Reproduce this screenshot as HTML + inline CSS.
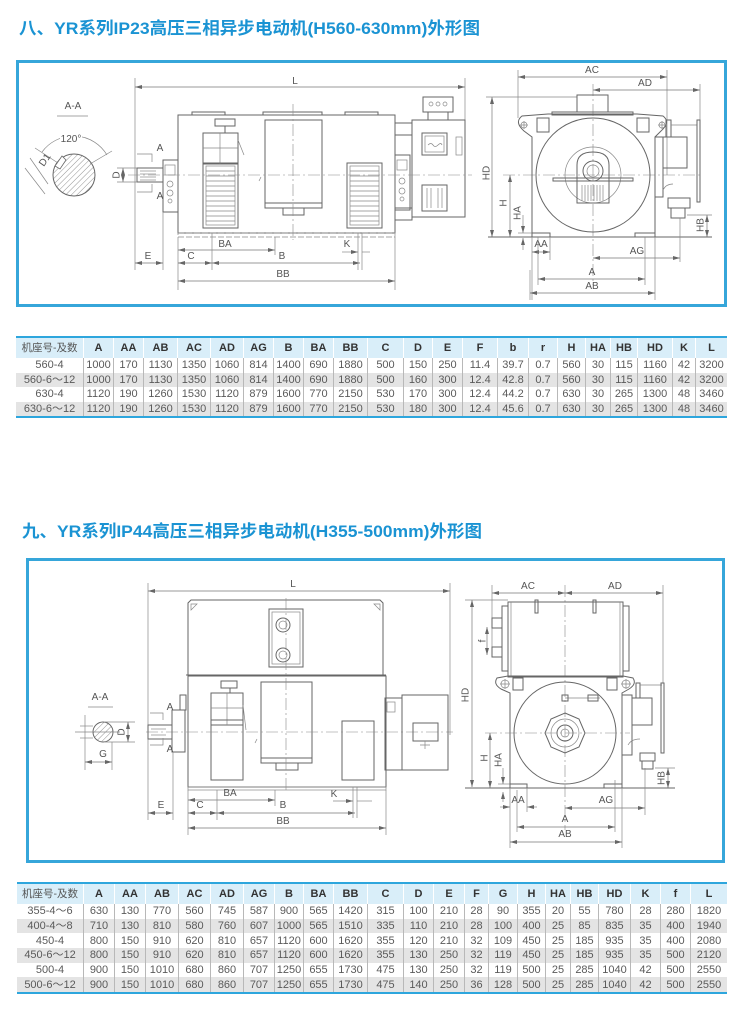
<!DOCTYPE html>
<html><head><meta charset="utf-8">
<style>
html,body{margin:0;padding:0;background:#fff}
body{width:750px;height:1010px;position:relative;overflow:hidden;font-family:"Liberation Sans","Noto Sans CJK SC",sans-serif}
svg{position:absolute;left:0;top:0}
table{position:absolute;border-collapse:separate;border-spacing:0;table-layout:fixed;border-top:2px solid #2ea6dd;border-bottom:2px solid #2ea6dd}
th,td{padding:0;text-align:center;overflow:hidden;white-space:nowrap}
th{background:#d9eef9;font-weight:bold;font-size:11px;color:#333;border-left:1px solid #fff;height:20px;line-height:20px}
td{font-size:11px;color:#5a5a5a;border-left:1px solid #b8b8b8;line-height:14px}
th:first-child,td:first-child{border-left:none}
th:first-child{font-weight:normal;color:#555;font-size:10.5px}
tr.g td{background:#e4e4e4}
#t1 td{height:14.5px}
#t2 td{height:14.67px}
.o{fill:none;stroke:#666;stroke-width:1}
.t{fill:none;stroke:#888;stroke-width:.7}
.d{stroke:#777;stroke-width:.7;marker-start:url(#ar);marker-end:url(#ar)}
.c{stroke:#888;stroke-width:.6;stroke-dasharray:12 3 2 3}
.lb{font-family:"Liberation Sans",sans-serif;font-size:10px;fill:#555;text-anchor:middle}
</style></head>
<body>
<svg width="750" height="1010" viewBox="0 0 750 1010">
<defs>
<marker id="ar" markerUnits="userSpaceOnUse" markerWidth="7" markerHeight="5" refX="7" refY="2.5" orient="auto-start-reverse"><path d="M0,0.5 L7,2.5 L0,4.5 z" fill="#666"/></marker>
<pattern id="h" patternUnits="userSpaceOnUse" width="4" height="4" patternTransform="rotate(45)"><line x1="0" y1="0" x2="0" y2="4" stroke="#777" stroke-width="0.8"/></pattern>
</defs>

<!-- Titles -->
<text x="19" y="34" font-family="Liberation Sans, Noto Sans CJK SC, sans-serif" font-size="17" font-weight="bold" fill="#1a93d3" textLength="461" lengthAdjust="spacingAndGlyphs">八、YR系列IP23高压三相异步电动机(H560-630mm)外形图</text>
<text x="22" y="537" font-family="Liberation Sans, Noto Sans CJK SC, sans-serif" font-size="17" font-weight="bold" fill="#1a93d3" textLength="460" lengthAdjust="spacingAndGlyphs">九、YR系列IP44高压三相异步电动机(H355-500mm)外形图</text>

<!-- Frames -->
<rect x="17.5" y="61.5" width="708" height="244" fill="none" stroke="#36a6da" stroke-width="3"/>
<rect x="27.5" y="559.5" width="696" height="302" fill="none" stroke="#36a6da" stroke-width="3"/>

<!-- ============ DIAGRAM 1 SIDE VIEW ============ -->
<line class="d" x1="135" y1="87" x2="465" y2="87"/>
<text class="lb" x="295" y="84">L</text>
<line class="t" x1="135" y1="78" x2="135" y2="270"/>
<line class="t" x1="465" y1="78" x2="465" y2="178"/>

<rect class="o" x="178" y="115" width="217" height="118"/>
<rect class="o" x="192" y="112" width="33" height="3"/>
<rect class="o" x="263" y="112" width="59" height="3"/>
<rect class="o" x="345" y="112" width="33" height="3"/>
<rect class="t" x="178" y="233" width="217" height="4" stroke-dasharray="6 2"/>

<!-- left bracket & shaft -->
<rect class="o" x="163" y="160" width="15" height="52"/>
<rect class="t" x="165" y="165" width="10" height="10"/>
<circle class="t" cx="170" cy="184" r="3"/><circle class="t" cx="170" cy="193" r="3"/><circle class="t" cx="170" cy="201" r="2"/>
<rect class="o" x="137" y="168" width="26" height="14"/>
<line class="t" x1="140" y1="171" x2="156" y2="171"/><line class="t" x1="140" y1="174" x2="156" y2="174"/><line class="t" x1="140" y1="177" x2="156" y2="177"/><line class="t" x1="140" y1="180" x2="156" y2="180"/>

<!-- right bracket & terminal box -->
<rect class="o" x="395" y="155" width="15" height="55"/>
<rect class="t" x="397" y="160" width="10" height="10"/>
<circle class="t" cx="402" cy="181" r="3"/><circle class="t" cx="402" cy="191" r="3"/><circle class="t" cx="402" cy="199" r="2"/>
<rect class="o" x="395" y="123" width="17" height="12"/>
<rect class="o" x="395" y="208" width="17" height="12"/>
<rect class="o" x="412" y="120" width="53" height="97"/>
<rect class="o" x="423" y="97" width="30" height="15"/>
<rect class="o" x="428" y="112" width="20" height="8"/>
<circle class="t" cx="431" cy="104" r="2"/><circle class="t" cx="438" cy="104" r="2"/><circle class="t" cx="445" cy="104" r="2"/>
<rect class="o" x="422" y="133" width="25" height="22"/>
<rect class="t" x="425" y="136" width="19" height="16"/>
<path class="t" d="M428,145 q3,-3 5,0 t5,0 t4,0"/>
<rect class="t" x="456" y="137" width="6" height="18"/>
<rect class="o" x="422" y="185" width="25" height="26"/>
<line class="t" x1="427" y1="188" x2="427" y2="208"/><line class="t" x1="431" y1="188" x2="431" y2="208"/><line class="t" x1="438" y1="188" x2="438" y2="208"/><line class="t" x1="442" y1="188" x2="442" y2="208"/>

<!-- collector left -->
<rect class="o" x="215" y="119" width="20" height="7"/>
<line class="o" x1="225" y1="126" x2="225" y2="133"/>
<rect class="o" x="203" y="133" width="35" height="31"/>
<line class="t" x1="220" y1="133" x2="220" y2="164"/>
<line class="t" x1="203" y1="148" x2="238" y2="148"/>
<line class="t" x1="238" y1="140" x2="244" y2="155"/>
<!-- louvres -->
<rect class="o" x="203" y="163" width="35" height="65"/>
<rect class="t" x="206" y="166" width="29" height="59"/>
<path class="t" d="M206,171H235M206,176H235M206,181H235M206,186H235M206,191H235M206,196H235M206,201H235M206,206H235M206,211H235M206,216H235M206,221H235"/>
<rect class="o" x="347" y="163" width="35" height="65"/>
<rect class="t" x="350" y="166" width="29" height="59"/>
<path class="t" d="M350,171H379M350,176H379M350,181H379M350,186H379M350,191H379M350,196H379M350,201H379M350,206H379M350,211H379M350,216H379M350,221H379"/>
<!-- centre plate -->
<rect class="o" x="265" y="120" width="57" height="83"/>
<rect class="o" x="265" y="203" width="57" height="5"/>
<rect class="o" x="283" y="208" width="21" height="7"/>
<path class="t" d="M259,181 l2,-4"/>
<line class="c" x1="293" y1="104" x2="293" y2="240"/>
<line class="c" x1="128" y1="175" x2="472" y2="175"/>

<!-- A-A markers -->
<path class="t" d="M137,154H152V162"/><text class="lb" x="160" y="151">A</text>
<path class="t" d="M137,192H152V184"/><text class="lb" x="160" y="199">A</text>
<line class="d" x1="123" y1="168" x2="123" y2="182"/>
<line class="t" x1="117" y1="168" x2="137" y2="168"/><line class="t" x1="117" y1="182" x2="137" y2="182"/>
<text class="lb" transform="translate(116,175) rotate(-90)" y="3.5">D</text>

<!-- section A-A -->
<text class="lb" x="73" y="109" font-size="11">A-A</text>
<line class="t" x1="57" y1="116" x2="88" y2="116"/>
<circle cx="74" cy="175" r="21" fill="url(#h)" stroke="#666" stroke-width="1"/>
<path d="M55,166 L62,156 L66,160 L60,169 Z" fill="#fff" stroke="#666" stroke-width=".8"/>
<path class="t" d="M42,152 A39,39 0 0 1 107,155"/>
<rect x="60" y="133" width="22" height="10" fill="#fff"/>
<text class="lb" x="71" y="142">120°</text>
<line class="t" x1="35" y1="148" x2="58" y2="163"/>
<line class="t" x1="112" y1="151" x2="90" y2="164"/>
<line class="t" x1="25" y1="168" x2="45" y2="194"/>
<line class="t" x1="30" y1="158" x2="48" y2="184"/>
<text class="lb" transform="translate(45,160) rotate(-55)" y="3" font-size="8">D1</text>

<!-- bottom dims side 1 -->
<line class="d" x1="178" y1="250" x2="275" y2="250"/>
<text class="lb" x="225" y="247">BA</text>
<line class="t" x1="275" y1="237" x2="275" y2="255"/>
<line class="t" x1="212" y1="233" x2="212" y2="270"/>
<line class="t" x1="163" y1="212" x2="163" y2="270"/>
<line class="t" x1="178" y1="237" x2="178" y2="290"/>
<line class="t" x1="395" y1="237" x2="395" y2="290"/>
<line class="d" x1="135" y1="263" x2="163" y2="263"/>
<text class="lb" x="148" y="259">E</text>
<line class="d" x1="178" y1="263" x2="212" y2="263"/>
<text class="lb" x="191" y="259">C</text>
<line class="d" x1="212" y1="263" x2="360" y2="263"/>
<text class="lb" x="282" y="259">B</text>
<line class="d" x1="178" y1="281" x2="395" y2="281"/>
<text class="lb" x="283" y="277">BB</text>
<line class="t" x1="358" y1="233" x2="358" y2="270"/>
<line class="t" x1="362" y1="233" x2="362" y2="270"/>
<line class="t" x1="342" y1="252" x2="358" y2="252" style="marker-end:url(#ar)"/>
<line class="t" x1="362" y1="252" x2="370" y2="252"/>
<text class="lb" x="347" y="247">K</text>

<!-- ============ DIAGRAM 1 FRONT VIEW ============ -->
<line class="d" x1="518" y1="77" x2="667" y2="77"/>
<text class="lb" x="592" y="73">AC</text>
<line class="t" x1="518" y1="70" x2="518" y2="118"/>
<line class="t" x1="667" y1="70" x2="667" y2="175"/>
<line class="d" x1="593" y1="90" x2="700" y2="90"/>
<text class="lb" x="645" y="86">AD</text>
<line class="t" x1="700" y1="84" x2="700" y2="200"/>
<line class="c" x1="593" y1="84" x2="593" y2="285"/>
<line class="d" x1="492" y1="97" x2="492" y2="237"/>
<line class="t" x1="486" y1="97" x2="577" y2="97"/>
<text class="lb" transform="translate(486,173) rotate(-90)" y="3.5">HD</text>
<line class="d" x1="510" y1="175" x2="510" y2="237"/>
<text class="lb" transform="translate(503,203) rotate(-90)" y="3.5">H</text>
<line class="c" x1="503" y1="175" x2="700" y2="175"/>
<line class="t" x1="523" y1="215" x2="523" y2="233" style="marker-end:url(#ar)"/>
<line class="t" x1="523" y1="250" x2="523" y2="238" style="marker-end:url(#ar)"/>
<text class="lb" transform="translate(517,213) rotate(-90)" y="3.5">HA</text>
<line class="t" x1="518" y1="233" x2="533" y2="233"/>
<line class="o" x1="488" y1="237" x2="712" y2="237"/>

<rect class="o" x="577" y="95" width="31" height="17"/>
<rect class="o" x="552" y="112" width="81" height="3"/>
<path class="o" d="M532,237 L532,137 L524,131 Q514,122 522,116 L548,114 L637,114 L663,116 Q671,122 661,131 L655,137 L655,237"/>
<rect class="o" x="537" y="118" width="12" height="14"/>
<rect class="o" x="637" y="118" width="12" height="14"/>
<circle class="t" cx="524" cy="125" r="3"/><path class="t" d="M520,125h8M524,121v8"/>
<circle class="t" cx="662" cy="125" r="3"/><path class="t" d="M658,125h8M662,121v8"/>
<circle class="o" cx="593" cy="175" r="57"/>
<circle class="t" cx="593" cy="175" r="28"/>
<rect class="o" x="553" y="178" width="80" height="3"/>
<path class="o" d="M577,203 L577,165 Q577,152 593,152 Q609,152 609,165 L609,203 Z" fill="#fff"/>
<circle class="o" cx="593" cy="171" r="10"/>
<circle class="t" cx="593" cy="171" r="6"/>
<path class="t" d="M582,185V201M585,185V201M588,185V201M591,185V201M594,185V201M597,185V201M600,185V201M603,185V201"/>
<rect class="o" x="532" y="233" width="18" height="4"/>
<rect class="o" x="635" y="233" width="20" height="4"/>
<!-- collector right -->
<rect class="o" x="655" y="137" width="8" height="60"/>
<rect class="o" x="663" y="137" width="24" height="31"/>
<rect class="o" x="666" y="120" width="5" height="17"/>
<line class="t" x1="671" y1="125" x2="697" y2="125"/>
<rect class="o" x="697" y="120" width="3" height="82"/>
<path class="t" d="M663,190 q3,-6 10,-6"/>
<rect class="o" x="668" y="198" width="22" height="10"/>
<rect class="o" x="671" y="208" width="14" height="10"/>
<line class="d" x1="707" y1="215" x2="707" y2="237"/>
<line class="t" x1="687" y1="215" x2="712" y2="215"/>
<text class="lb" transform="translate(700,225) rotate(-90)" y="3.5">HB</text>
<!-- bottom dims front 1 -->
<line class="t" x1="532" y1="237" x2="532" y2="300"/>
<line class="t" x1="550" y1="237" x2="550" y2="260"/>
<line class="d" x1="532" y1="252" x2="550" y2="252"/>
<text class="lb" x="541" y="247">AA</text>
<line class="d" x1="593" y1="258" x2="680" y2="258"/>
<line class="t" x1="680" y1="218" x2="680" y2="262"/>
<text class="lb" x="637" y="254">AG</text>
<line class="t" x1="538" y1="237" x2="538" y2="285"/>
<line class="t" x1="645" y1="237" x2="645" y2="285"/>
<line class="d" x1="538" y1="279" x2="645" y2="279"/>
<text class="lb" x="592" y="275">A</text>
<line class="t" x1="655" y1="237" x2="655" y2="300"/>
<line class="t" x1="530" y1="270" x2="530" y2="300"/>
<line class="d" x1="530" y1="293" x2="655" y2="293"/>
<text class="lb" x="592" y="289">AB</text>

<!-- ============ DIAGRAM 2 SIDE VIEW ============ -->
<line class="d" x1="148" y1="591" x2="450" y2="591"/>
<text class="lb" x="293" y="587">L</text>
<line class="t" x1="148" y1="583" x2="148" y2="820"/>
<line class="t" x1="450" y1="583" x2="450" y2="735"/>

<path class="o" d="M188,675 L188,603 L191,600 L380,600 L383,603 L383,675"/>
<path class="t" d="M191,604 l6,0 l-6,6z M380,604 l-6,0 l6,6z"/>
<line class="o" x1="186" y1="675" x2="386" y2="675"/>
<rect class="o" x="269" y="609" width="34" height="58"/>
<rect class="t" x="272" y="612" width="28" height="52"/>
<circle class="o" cx="283" cy="625" r="7"/><circle class="t" cx="283" cy="625" r="4"/>
<circle class="o" cx="283" cy="655" r="7"/><circle class="t" cx="283" cy="655" r="4"/>
<rect class="o" x="188" y="676" width="198" height="111"/>
<rect class="t" x="188" y="787" width="198" height="3"/>

<rect class="o" x="221" y="681" width="16" height="7"/>
<line class="o" x1="230" y1="688" x2="230" y2="693"/>
<rect class="o" x="211" y="693" width="32" height="32"/>
<line class="t" x1="227" y1="693" x2="227" y2="725"/>
<line class="t" x1="211" y1="708" x2="243" y2="708"/>
<line class="t" x1="243" y1="705" x2="246" y2="730"/>
<rect class="o" x="211" y="720" width="32" height="60"/>
<rect class="o" x="261" y="682" width="51" height="76"/>
<rect class="o" x="261" y="758" width="51" height="5"/>
<rect class="o" x="276" y="763" width="22" height="7"/>
<path class="t" d="M255,743 l2,-4"/>
<rect class="o" x="342" y="721" width="32" height="59"/>
<line class="c" x1="286" y1="598" x2="286" y2="792"/>
<line class="c" x1="146" y1="732" x2="453" y2="732"/>

<rect class="o" x="148" y="725" width="24" height="14"/>
<line class="t" x1="151" y1="729" x2="166" y2="729"/><line class="t" x1="151" y1="735" x2="166" y2="735"/>
<rect class="o" x="172" y="710" width="13" height="42"/>
<rect class="o" x="180" y="695" width="6" height="15"/>
<rect class="o" x="385" y="698" width="17" height="72"/>
<rect class="t" x="387" y="702" width="8" height="10"/>
<rect class="o" x="402" y="695" width="46" height="75"/>
<rect class="o" x="413" y="723" width="25" height="18"/>
<path class="t" d="M420,745h10M425,741v8"/>

<path class="t" d="M150,713H163V720"/><text class="lb" x="170" y="710">A</text>
<path class="t" d="M150,745H163V738"/><text class="lb" x="170" y="752">A</text>

<!-- section A-A 2 -->
<text class="lb" x="100" y="700" font-size="11">A-A</text>
<line class="t" x1="88" y1="707" x2="113" y2="707"/>
<circle cx="103" cy="732" r="10" fill="url(#h)" stroke="#666" stroke-width="1"/>
<line class="t" x1="75" y1="732" x2="120" y2="732"/>
<line class="d" x1="128" y1="722" x2="128" y2="742"/>
<line class="t" x1="105" y1="722" x2="135" y2="722"/><line class="t" x1="105" y1="742" x2="135" y2="742"/>
<text class="lb" transform="translate(121,732) rotate(-90)" y="3.5">D</text>
<line class="t" x1="85" y1="715" x2="85" y2="770"/>
<line class="t" x1="80" y1="726" x2="93" y2="726"/><line class="t" x1="80" y1="738" x2="93" y2="738"/>
<line class="t" x1="112" y1="742" x2="112" y2="770"/>
<line class="d" x1="85" y1="762" x2="112" y2="762"/>
<text class="lb" x="103" y="757">G</text>

<!-- bottom dims side 2 -->
<line class="d" x1="188" y1="800" x2="275" y2="800"/>
<text class="lb" x="230" y="796">BA</text>
<line class="t" x1="275" y1="790" x2="275" y2="806"/>
<line class="t" x1="217" y1="790" x2="217" y2="820"/>
<line class="t" x1="173" y1="752" x2="173" y2="820"/>
<line class="t" x1="188" y1="790" x2="188" y2="835"/>
<line class="t" x1="386" y1="790" x2="386" y2="835"/>
<line class="d" x1="148" y1="813" x2="173" y2="813"/>
<text class="lb" x="161" y="808">E</text>
<line class="d" x1="188" y1="813" x2="217" y2="813"/>
<text class="lb" x="200" y="808">C</text>
<line class="d" x1="217" y1="813" x2="355" y2="813"/>
<text class="lb" x="283" y="808">B</text>
<line class="d" x1="188" y1="828" x2="386" y2="828"/>
<text class="lb" x="283" y="824">BB</text>
<line class="t" x1="353" y1="787" x2="353" y2="818"/>
<line class="t" x1="357" y1="787" x2="357" y2="818"/>
<line class="t" x1="333" y1="801" x2="353" y2="801" style="marker-end:url(#ar)"/>
<line class="t" x1="357" y1="801" x2="372" y2="801"/>
<text class="lb" x="334" y="797">K</text>

<!-- ============ DIAGRAM 2 FRONT VIEW ============ -->
<line class="d" x1="492" y1="593" x2="565" y2="593"/>
<text class="lb" x="528" y="589">AC</text>
<line class="d" x1="565" y1="593" x2="663" y2="593"/>
<text class="lb" x="615" y="589">AD</text>
<line class="t" x1="492" y1="585" x2="492" y2="650"/>
<line class="t" x1="663" y1="585" x2="663" y2="683"/>
<line class="c" x1="565" y1="585" x2="565" y2="830"/>
<line class="d" x1="472" y1="600" x2="472" y2="787"/>
<line class="t" x1="465" y1="600" x2="508" y2="600"/>
<text class="lb" transform="translate(465,695) rotate(-90)" y="3.5">HD</text>

<rect class="o" x="508" y="602" width="115" height="75"/>
<line class="t" x1="511" y1="602" x2="511" y2="677"/><line class="t" x1="620" y1="602" x2="620" y2="677"/>
<rect class="o" x="535" y="600" width="3" height="13"/>
<rect class="o" x="593" y="600" width="3" height="13"/>
<rect class="o" x="502" y="606" width="6" height="65"/>
<rect class="o" x="623" y="606" width="6" height="65"/>
<rect class="o" x="492" y="618" width="10" height="10"/>
<rect class="o" x="492" y="647" width="10" height="10"/>
<line class="d" x1="487" y1="627" x2="487" y2="655"/>
<text class="lb" transform="translate(482,641) rotate(-90)" y="3.5">f</text>
<path class="o" d="M510,788 L510,693 L501,689 Q493,684 497,678 L508,676 L623,676 L633,678 Q637,684 629,689 L622,693 L622,788"/>
<circle class="t" cx="505" cy="684" r="4"/><path class="t" d="M500,684h10M505,679v10"/>
<circle class="t" cx="626" cy="684" r="4"/><path class="t" d="M621,684h10M626,679v10"/>
<rect class="o" x="513" y="678" width="10" height="12"/>
<rect class="o" x="607" y="678" width="10" height="12"/>
<circle class="o" cx="565" cy="733" r="51"/>
<polygon class="o" points="565,713 579,719 585,733 579,747 565,753 551,747 545,733 551,719"/>
<circle class="t" cx="565" cy="733" r="14"/>
<circle class="o" cx="565" cy="733" r="8"/>
<circle class="t" cx="565" cy="733" r="4"/>
<line class="t" x1="565" y1="698" x2="600" y2="698"/>
<rect class="o" x="588" y="695" width="10" height="6"/>
<rect class="o" x="562" y="695" width="6" height="6"/>
<!-- collector 2 -->
<rect class="o" x="622" y="695" width="10" height="60"/>
<rect class="o" x="632" y="698" width="20" height="27"/>
<rect class="o" x="636" y="683" width="4" height="15"/>
<line class="t" x1="640" y1="685" x2="662" y2="685"/>
<rect class="o" x="661" y="683" width="3" height="70"/>
<path class="t" d="M628,745 q3,-6 12,-6"/>
<rect class="o" x="640" y="753" width="15" height="8"/>
<rect class="o" x="642" y="761" width="11" height="8"/>
<line class="o" x1="465" y1="788" x2="675" y2="788"/>
<line class="c" x1="485" y1="733" x2="630" y2="733"/>
<line class="d" x1="490" y1="733" x2="490" y2="788"/>
<text class="lb" transform="translate(484,758) rotate(-90)" y="3.5">H</text>
<line class="t" x1="503" y1="768" x2="503" y2="784" style="marker-end:url(#ar)"/>
<line class="t" x1="503" y1="802" x2="503" y2="792" style="marker-end:url(#ar)"/>
<line class="t" x1="498" y1="784" x2="512" y2="784"/>
<text class="lb" transform="translate(498,760) rotate(-90)" y="3.5">HA</text>
<rect class="o" x="510" y="784" width="17" height="4"/>
<rect class="o" x="604" y="784" width="18" height="4"/>
<line class="d" x1="668" y1="768" x2="668" y2="788"/>
<line class="t" x1="655" y1="768" x2="675" y2="768"/>
<text class="lb" transform="translate(661,778) rotate(-90)" y="3.5">HB</text>
<line class="t" x1="510" y1="788" x2="510" y2="848"/>
<line class="t" x1="527" y1="788" x2="527" y2="812"/>
<line class="t" x1="500" y1="807" x2="510" y2="807" style="marker-end:url(#ar)"/>
<line class="t" x1="537" y1="807" x2="527" y2="807" style="marker-end:url(#ar)"/>
<text class="lb" x="518" y="803">AA</text>
<line class="d" x1="565" y1="808" x2="645" y2="808"/>
<line class="t" x1="645" y1="768" x2="645" y2="815"/>
<text class="lb" x="606" y="803">AG</text>
<line class="t" x1="517" y1="790" x2="517" y2="832"/>
<line class="t" x1="615" y1="780" x2="615" y2="832"/>
<line class="d" x1="517" y1="827" x2="615" y2="827"/>
<text class="lb" x="565" y="822">A</text>
<line class="t" x1="622" y1="788" x2="622" y2="848"/>
<line class="d" x1="510" y1="842" x2="622" y2="842"/>
<text class="lb" x="565" y="837">AB</text>
</svg>

<table id="t1" style="left:16px;top:336px;width:711px">
<colgroup><col style="width:67px"><col style="width:30px"><col style="width:30px"><col style="width:34px"><col style="width:33px"><col style="width:33px"><col style="width:30px"><col style="width:30px"><col style="width:30px"><col style="width:34px"><col style="width:36px"><col style="width:29px"><col style="width:30px"><col style="width:35px"><col style="width:31px"><col style="width:29px"><col style="width:28px"><col style="width:25px"><col style="width:27px"><col style="width:35px"><col style="width:23px"><col style="width:32px"></colgroup>
<tr><th>机座号-及数</th><th>A</th><th>AA</th><th>AB</th><th>AC</th><th>AD</th><th>AG</th><th>B</th><th>BA</th><th>BB</th><th>C</th><th>D</th><th>E</th><th>F</th><th>b</th><th>r</th><th>H</th><th>HA</th><th>HB</th><th>HD</th><th>K</th><th>L</th></tr>
<tr><td>560-4</td><td>1000</td><td>170</td><td>1130</td><td>1350</td><td>1060</td><td>814</td><td>1400</td><td>690</td><td>1880</td><td>500</td><td>150</td><td>250</td><td>11.4</td><td>39.7</td><td>0.7</td><td>560</td><td>30</td><td>115</td><td>1160</td><td>42</td><td>3200</td></tr>
<tr class="g"><td>560-6～12</td><td>1000</td><td>170</td><td>1130</td><td>1350</td><td>1060</td><td>814</td><td>1400</td><td>690</td><td>1880</td><td>500</td><td>160</td><td>300</td><td>12.4</td><td>42.8</td><td>0.7</td><td>560</td><td>30</td><td>115</td><td>1160</td><td>42</td><td>3200</td></tr>
<tr><td>630-4</td><td>1120</td><td>190</td><td>1260</td><td>1530</td><td>1120</td><td>879</td><td>1600</td><td>770</td><td>2150</td><td>530</td><td>170</td><td>300</td><td>12.4</td><td>44.2</td><td>0.7</td><td>630</td><td>30</td><td>265</td><td>1300</td><td>48</td><td>3460</td></tr>
<tr class="g"><td>630-6～12</td><td>1120</td><td>190</td><td>1260</td><td>1530</td><td>1120</td><td>879</td><td>1600</td><td>770</td><td>2150</td><td>530</td><td>180</td><td>300</td><td>12.4</td><td>45.6</td><td>0.7</td><td>630</td><td>30</td><td>265</td><td>1300</td><td>48</td><td>3460</td></tr>
</table>

<table id="t2" style="left:17px;top:882px;width:710px">
<colgroup><col style="width:66px"><col style="width:31px"><col style="width:31px"><col style="width:33px"><col style="width:32px"><col style="width:33px"><col style="width:31px"><col style="width:29px"><col style="width:30px"><col style="width:34px"><col style="width:36px"><col style="width:30px"><col style="width:31px"><col style="width:24px"><col style="width:29px"><col style="width:28px"><col style="width:25px"><col style="width:28px"><col style="width:32px"><col style="width:30px"><col style="width:30px"><col style="width:37px"></colgroup>
<tr><th>机座号-及数</th><th>A</th><th>AA</th><th>AB</th><th>AC</th><th>AD</th><th>AG</th><th>B</th><th>BA</th><th>BB</th><th>C</th><th>D</th><th>E</th><th>F</th><th>G</th><th>H</th><th>HA</th><th>HB</th><th>HD</th><th>K</th><th>f</th><th>L</th></tr>
<tr><td>355-4～6</td><td>630</td><td>130</td><td>770</td><td>560</td><td>745</td><td>587</td><td>900</td><td>565</td><td>1420</td><td>315</td><td>100</td><td>210</td><td>28</td><td>90</td><td>355</td><td>20</td><td>55</td><td>780</td><td>28</td><td>280</td><td>1820</td></tr>
<tr class="g"><td>400-4～8</td><td>710</td><td>130</td><td>810</td><td>580</td><td>760</td><td>607</td><td>1000</td><td>565</td><td>1510</td><td>335</td><td>110</td><td>210</td><td>28</td><td>100</td><td>400</td><td>25</td><td>85</td><td>835</td><td>35</td><td>400</td><td>1940</td></tr>
<tr><td>450-4</td><td>800</td><td>150</td><td>910</td><td>620</td><td>810</td><td>657</td><td>1120</td><td>600</td><td>1620</td><td>355</td><td>120</td><td>210</td><td>32</td><td>109</td><td>450</td><td>25</td><td>185</td><td>935</td><td>35</td><td>400</td><td>2080</td></tr>
<tr class="g"><td>450-6～12</td><td>800</td><td>150</td><td>910</td><td>620</td><td>810</td><td>657</td><td>1120</td><td>600</td><td>1620</td><td>355</td><td>130</td><td>250</td><td>32</td><td>119</td><td>450</td><td>25</td><td>185</td><td>935</td><td>35</td><td>500</td><td>2120</td></tr>
<tr><td>500-4</td><td>900</td><td>150</td><td>1010</td><td>680</td><td>860</td><td>707</td><td>1250</td><td>655</td><td>1730</td><td>475</td><td>130</td><td>250</td><td>32</td><td>119</td><td>500</td><td>25</td><td>285</td><td>1040</td><td>42</td><td>500</td><td>2550</td></tr>
<tr class="g"><td>500-6～12</td><td>900</td><td>150</td><td>1010</td><td>680</td><td>860</td><td>707</td><td>1250</td><td>655</td><td>1730</td><td>475</td><td>140</td><td>250</td><td>36</td><td>128</td><td>500</td><td>25</td><td>285</td><td>1040</td><td>42</td><td>500</td><td>2550</td></tr>
</table>
</body></html>
